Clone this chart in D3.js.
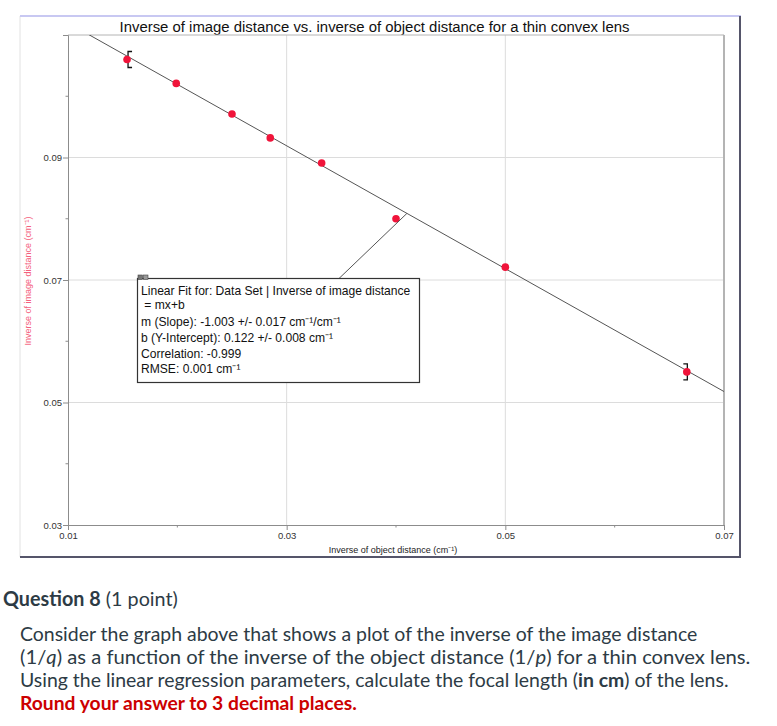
<!DOCTYPE html>
<html>
<head>
<meta charset="utf-8">
<script src="https://cdn.jsdelivr.net/npm/d3@7"></script>
<style>
  body { margin: 0; background: #fff; }
  svg { display: block; }
</style>
</head>
<body>
<svg id="chart"></svg>
<script>
// data
const objInv = [0.0154, 0.0199, 0.0250, 0.0285, 0.0332, 0.0400, 0.0500, 0.0666];
const imgInv = [0.1060, 0.1021, 0.0971, 0.0932, 0.0891, 0.0800, 0.0721, 0.0550];
const fitSlope = -1.003;
const fitIntercept = 0.122;
const xMajor = [0.01, 0.03, 0.05, 0.07];
const xMinor = [0.02, 0.04, 0.06];
const yMajor = [0.03, 0.05, 0.07, 0.09];
const yMinor = [0.04, 0.06, 0.08, 0.10];
const fitLines = [
  "Linear Fit for: Data Set | Inverse of image distance",
  " = mx+b",
  "m (Slope): -1.003 +/- 0.017 cm\u207B\u00B9/cm\u207B\u00B9",
  "b (Y-Intercept): 0.122 +/- 0.008 cm\u207B\u00B9",
  "Correlation: -0.999",
  "RMSE: 0.001 cm\u207B\u00B9"
];

const W = 777, H = 726;
const margin = { top: 35, right: 53, bottom: 201, left: 68 };
const width = W - margin.left - margin.right;
const height = H - margin.top - margin.bottom;

const svg = d3.select("#chart").attr("width", W).attr("height", H);
svg.append("rect").attr("width", W).attr("height", H).attr("fill", "#fff");

// outer frame of the graph window
svg.append("line").attr("x1", 20).attr("x2", 20).attr("y1", 16).attr("y2", 557)
   .attr("stroke", "#e2e2e2");
svg.append("line").attr("x1", 20).attr("x2", 741).attr("y1", 16).attr("y2", 16)
   .attr("stroke", "#c8c8f2").attr("stroke-width", 2);
svg.append("line").attr("x1", 740).attr("x2", 740).attr("y1", 16).attr("y2", 558)
   .attr("stroke", "#55556a").attr("stroke-width", 2);
svg.append("line").attr("x1", 20).attr("x2", 741).attr("y1", 557).attr("y2", 557)
   .attr("stroke", "#55556a").attr("stroke-width", 2);

svg.append("text")
   .attr("x", 374.5).attr("y", 32)
   .attr("text-anchor", "middle")
   .attr("font-family", "Liberation Sans, Arial, sans-serif")
   .attr("font-size", 14.9).attr("fill", "#111")
   .text("Inverse of image distance vs. inverse of object distance for a thin convex lens");

const g = svg.append("g").attr("transform", "translate(" + margin.left + "," + margin.top + ")");

const x = d3.scaleLinear().domain([0.01, 0.07]).range([0, width]);
const y = d3.scaleLinear().domain([0.03, 0.11]).range([height, 0]);

// grid
g.selectAll(".vgrid").data(xMajor.slice(1, -1)).enter().append("line")
 .attr("x1", d => x(d)).attr("x2", d => x(d)).attr("y1", 0).attr("y2", height)
 .attr("stroke", "#dcdcdc");
g.selectAll(".hgrid").data(yMajor.slice(1)).enter().append("line")
 .attr("x1", 0).attr("x2", width).attr("y1", d => y(d)).attr("y2", d => y(d))
 .attr("stroke", "#dcdcdc");

// plot border (top, right)
g.append("line").attr("x1", 0).attr("x2", width).attr("y1", 0).attr("y2", 0).attr("stroke", "#b4b4b4");
g.append("line").attr("x1", width).attr("x2", width).attr("y1", 0).attr("y2", height)
 .attr("stroke", "#b4b4b4").attr("stroke-width", 2);

// axes
const fmt = d3.format(".2f");
const xAxis = g.append("g").attr("transform", "translate(0," + height + ")")
  .call(d3.axisBottom(x).tickValues(xMajor).tickFormat(fmt).tickSize(5).tickPadding(2));
const yAxis = g.append("g")
  .call(d3.axisLeft(y).tickValues(yMajor).tickFormat(fmt).tickSize(5).tickPadding(1));
[xAxis, yAxis].forEach(a => {
  a.select(".domain").attr("stroke", "#8c8c8c");
  a.selectAll(".tick line").attr("stroke", "#8c8c8c");
  a.selectAll("text").attr("font-family", "Liberation Sans, Arial, sans-serif")
   .attr("font-size", 9.5).attr("fill", "#333");
});
g.selectAll(".xminor").data(xMinor).enter().append("line")
 .attr("x1", d => x(d)).attr("x2", d => x(d)).attr("y1", height).attr("y2", height + 2.5)
 .attr("stroke", "#8c8c8c");
g.selectAll(".yminor").data(yMinor).enter().append("line")
 .attr("x1", -2.5).attr("x2", 0).attr("y1", d => y(d)).attr("y2", d => y(d))
 .attr("stroke", "#8c8c8c");

// axis titles
svg.append("text")
   .attr("x", 393).attr("y", 553).attr("text-anchor", "middle")
   .attr("font-family", "Liberation Sans, Arial, sans-serif").attr("font-size", 9)
   .attr("fill", "#222")
   .text("Inverse of object distance (cm\u207B\u00B9)");
svg.append("text")
   .attr("transform", "translate(31,281) rotate(-90)").attr("text-anchor", "middle")
   .attr("font-family", "Liberation Sans, Arial, sans-serif").attr("font-size", 9)
   .attr("fill", "#f4607c")
   .text("Inverse of image distance (cm\u207B\u00B9)");

// fit line clipped to plot area
g.append("clipPath").attr("id", "plotclip").append("rect")
 .attr("width", width).attr("height", height);
const fitX = x.domain();
g.append("line")
 .attr("clip-path", "url(#plotclip)")
 .attr("x1", x(fitX[0])).attr("y1", y(fitSlope * fitX[0] + fitIntercept))
 .attr("x2", x(fitX[1])).attr("y2", y(fitSlope * fitX[1] + fitIntercept))
 .attr("stroke", "#555").attr("stroke-width", 1);

// fit range brackets
const first = 0, last = objInv.length - 1;
const bx0 = x(objInv[first]) + 1, by0 = y(imgInv[first]);
g.append("path")
 .attr("d", `M${bx0 + 4},${by0 - 8}H${bx0}V${by0 + 8}H${bx0 + 4}`)
 .attr("fill", "none").attr("stroke", "#111").attr("stroke-width", 1.3);
const bx1 = x(objInv[last]) + 0.5, by1 = y(imgInv[last]);
g.append("path")
 .attr("d", `M${bx1 - 4},${by1 - 8}H${bx1}V${by1 + 8}H${bx1 - 4}`)
 .attr("fill", "none").attr("stroke", "#111").attr("stroke-width", 1.3);

// points
g.selectAll(".dot").data(objInv).enter().append("circle")
 .attr("class", "dot")
 .attr("cx", d => x(d))
 .attr("cy", (d, i) => y(imgInv[i]))
 .attr("r", 3.8)
 .attr("fill", "#f0143a");

// fit annotation box + connector
const boxX = 137.5, boxY = 278.5, boxW = 282, boxH = 104;
const cx = 0.041;
svg.append("line")
   .attr("x1", 339).attr("y1", boxY)
   .attr("x2", margin.left + x(cx)).attr("y2", margin.top + y(fitSlope * cx + fitIntercept))
   .attr("stroke", "#555");
svg.append("rect").attr("x", boxX).attr("y", boxY).attr("width", boxW).attr("height", boxH)
   .attr("fill", "#fff").attr("stroke", "#333").attr("stroke-width", 1.2);
svg.append("rect").attr("x", 138).attr("y", 275).attr("width", 4.5).attr("height", 4.5)
   .attr("fill", "#777").attr("stroke", "#444").attr("stroke-width", 0.6);
svg.append("rect").attr("x", 143.5).attr("y", 275).attr("width", 4.5).attr("height", 4.5)
   .attr("fill", "#999").attr("stroke", "#444").attr("stroke-width", 0.6);
const lineY = [294.5, 309, 325.5, 342, 357.5, 373];
svg.selectAll(".fittext").data(fitLines).enter().append("text")
   .attr("x", 141).attr("y", (d, i) => lineY[i])
   .attr("font-family", "Liberation Sans, Arial, sans-serif").attr("font-size", 12.1)
   .attr("fill", "#111")
   .style("white-space", "pre")
   .text(d => d);

// question text below the graph
function fitWidth(sel, x0, y0, target) {
  const w = sel.node().getComputedTextLength();
  sel.attr("transform", `translate(${x0},${y0}) scale(${target / w},1)`);
}
const qFont = "Lato, 'Noto Sans', sans-serif";
const q = svg.append("text").attr("font-family", qFont).attr("font-size", 20).attr("fill", "#2d3b45");
q.append("tspan").attr("font-weight", 700).text("Question 8");
q.append("tspan").text(" (1 point)");
fitWidth(q, 3, 606, 175);

const body = [
  [["Consider the graph above that shows a plot of the inverse of the image distance", ""]],
  [["(1/", ""], ["q", "i"], [") as a function of the inverse of the object distance (1/", ""], ["p", "i"], [") for a thin convex lens.", ""]],
  [["Using the linear regression parameters, calculate the focal length (", ""], ["in cm", "b"], [") of the lens.", ""]],
  [["Round your answer to 3 decimal places.", "b"]]
];
const bodyY = [641, 664, 687, 710];
const bodyW = [678, 731, 709, 337];
body.forEach((parts, i) => {
  const t = svg.append("text").attr("font-family", qFont).attr("font-size", 18.5)
    .attr("fill", i === 3 ? "#cc0000" : "#2d3b45");
  parts.forEach(p => {
    const s = t.append("tspan").text(p[0]);
    if (p[1] === "i") s.attr("font-style", "italic");
    if (p[1] === "b") s.attr("font-weight", 700);
  });
  fitWidth(t, 20, bodyY[i], bodyW[i]);
});
</script>
</body>
</html>
